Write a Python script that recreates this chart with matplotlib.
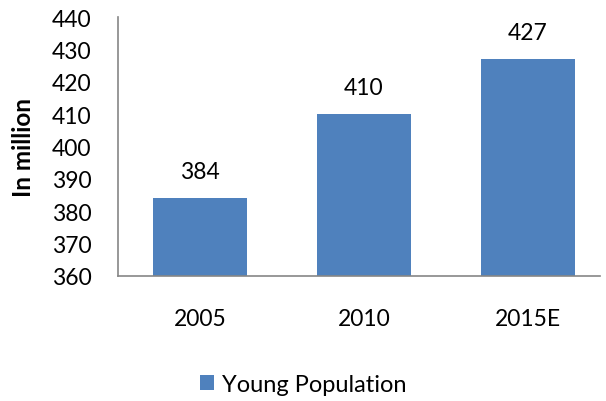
import matplotlib.pyplot as plt

plt.rcParams['font.family'] = ['Lato', 'DejaVu Sans']

years = ['2005', '2010', '2015E']
young_pop = [384, 410, 427]

fig = plt.figure(figsize=(6.06, 4.02), dpi=100)
ax = fig.add_axes([0.1947, 0.311, 0.7953, 0.644])

x = list(range(len(years)))
bars = ax.bar(x, [v - 360 for v in young_pop], bottom=360, width=0.57,
              color='#4F81BD', label='Young Population')

for xi, v in zip(x, young_pop):
    ax.annotate(str(v), (xi, v), xytext=(0, 19), textcoords='offset points',
                ha='center', va='center', fontsize=16.5)

ax.set_ylim(360, 440)
ax.set_yticks(range(360, 441, 10))
ax.set_xlim(-0.5, 2.44)
ax.set_xticks(x)
ax.set_xticklabels(years)
ax.tick_params(axis='both', length=0, labelsize=16.5)
ax.tick_params(axis='y', pad=19)
ax.tick_params(axis='x', pad=23)

for side in ['top', 'right']:
    ax.spines[side].set_visible(False)
for side in ['left', 'bottom']:
    ax.spines[side].set_color('#868686')
    ax.spines[side].set_linewidth(1.2)

ax.set_ylabel('In million', fontsize=17.5, fontweight='bold', labelpad=12)

fig.legend(handles=[bars], loc='center', bbox_to_anchor=(0.5, 0.042),
           frameon=False, fontsize=17, handlelength=0.6, handleheight=0.6,
           handletextpad=0.35)

fig.savefig('out.png', dpi=100)
